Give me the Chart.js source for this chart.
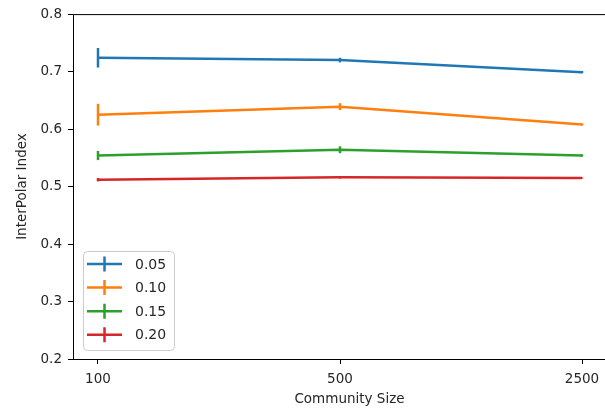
<!DOCTYPE html>
<html>
<head>
<meta charset="utf-8">
<script src="https://cdn.jsdelivr.net/npm/chart.js@4.4.0/dist/chart.umd.min.js"></script>
<style>
  html, body { margin: 0; padding: 0; background: #fff; overflow: hidden; }
  #clip { width: 605px; height: 411px; overflow: hidden; }
  #wrap { width: 645px; height: 411px; position: relative; }
</style>
</head>
<body>
<div id="clip"><div id="wrap"><canvas id="chart"></canvas></div></div>
<script>
// community sizes (x, log spaced)
const sizes = [100, 500, 2500];
const seriesNames = ["0.05", "0.10", "0.15", "0.20"];
const colors = ["#1f77b4", "#ff7f0e", "#2ca02c", "#d62728"];

// mean InterPolar index per series
const v005 = [0.724, 0.720, 0.699];
const v010 = [0.625, 0.639, 0.608];
const v015 = [0.554, 0.564, 0.554];
const v020 = [0.512, 0.516, 0.515];

// error half widths
const e005 = [0.017, 0.004, 0.002];
const e010 = [0.019, 0.006, 0.002];
const e015 = [0.008, 0.006, 0.002];
const e020 = [0.003, 0.002, 0.001];

const yTicks = [0.2, 0.3, 0.4, 0.5, 0.6, 0.7, 0.8];

const values = [v005, v010, v015, v020];
const errors = [e005, e010, e015, e020];
const font = "DejaVu Sans";
const textColor = "#262626";
const axisFont = 13.5;

const errorBars = {
  id: "errorBars",
  afterDatasetsDraw(chart) {
    const ctx = chart.ctx;
    const xs = chart.scales.x, ys = chart.scales.y;
    ctx.save();
    ctx.lineWidth = 2.5;
    values.forEach((vals, i) => {
      ctx.strokeStyle = colors[i];
      vals.forEach((v, j) => {
        const px = xs.getPixelForValue(sizes[j]);
        ctx.beginPath();
        ctx.moveTo(px, ys.getPixelForValue(v - errors[i][j]));
        ctx.lineTo(px, ys.getPixelForValue(v + errors[i][j]));
        ctx.stroke();
      });
    });
    ctx.restore();
  },
};

// spines; the right one lies beyond the visible 605px
const frame = {
  id: "frame",
  afterDraw(chart) {
    const a = chart.chartArea, ctx = chart.ctx;
    ctx.save();
    ctx.strokeStyle = "#000";
    ctx.lineWidth = 1;
    ctx.strokeRect(a.left + 0.5, a.top + 0.5, a.right - a.left, a.bottom - a.top);
    ctx.restore();
  },
};

const legendBox = {
  id: "legendBox",
  afterDraw(chart) {
    const ctx = chart.ctx;
    const a = chart.chartArea;
    const x0 = a.left + 10, y0 = 251, w = 91, h = 99, r = 4;
    ctx.save();
    ctx.fillStyle = "rgba(255,255,255,0.8)";
    ctx.strokeStyle = "#cccccc";
    ctx.lineWidth = 1;
    ctx.beginPath();
    ctx.roundRect(x0 + 0.5, y0 + 0.5, w, h, r);
    ctx.fill();
    ctx.stroke();
    ctx.font = "14px '" + font + "'";
    ctx.textBaseline = "middle";
    ctx.textAlign = "left";
    seriesNames.forEach((name, i) => {
      const cy = y0 + 13 + i * 23.6;
      ctx.strokeStyle = colors[i];
      ctx.lineWidth = 2.5;
      ctx.beginPath();
      ctx.moveTo(x0 + 4, cy);
      ctx.lineTo(x0 + 39, cy);
      ctx.moveTo(x0 + 21.5, cy - 7.5);
      ctx.lineTo(x0 + 21.5, cy + 7.5);
      ctx.stroke();
      ctx.fillStyle = textColor;
      ctx.fillText(name, x0 + 52, cy + 1);
    });
    ctx.restore();
  },
};

new Chart(document.getElementById("chart").getContext("2d"), {
  type: "line",
  data: {
    datasets: values.map((vals, i) => ({
      label: seriesNames[i],
      data: vals.map((v, j) => ({ x: sizes[j], y: v })),
      borderColor: colors[i],
      backgroundColor: colors[i],
      borderWidth: 2.5,
      pointRadius: 0,
      tension: 0,
    })),
  },
  options: {
    responsive: true,
    maintainAspectRatio: false,
    animation: false,
    layout: { padding: { top: 13, right: 19, left: 0, bottom: 0 } },
    plugins: { legend: { display: false }, tooltip: { enabled: false } },
    scales: {
      x: {
        type: "logarithmic",
        min: Math.pow(10, 1.9278),
        max: Math.pow(10, 3.525),
        afterBuildTicks: (s) => { s.ticks = sizes.map((v) => ({ value: v })); },
        afterFit: (s) => { s.height = 52; },
        ticks: {
          autoSkip: false,
          maxRotation: 0,
          padding: 7,
          color: textColor,
          font: { family: font, size: axisFont },
          callback: (v) => String(v),
        },
        grid: { drawOnChartArea: false, tickLength: 5, tickColor: "#000", color: "#000" },
        border: { display: false },
        title: { display: true, text: "Community Size", color: textColor, font: { family: font, size: axisFont }, padding: { top: 2, bottom: 3 } },
      },
      y: {
        min: 0.2,
        max: 0.8,
        afterBuildTicks: (s) => { s.ticks = yTicks.map((v) => ({ value: v })); },
        afterFit: (s) => { s.width = 73; },
        ticks: {
          padding: 6,
          color: textColor,
          font: { family: font, size: axisFont },
          callback: (v) => v.toFixed(1),
        },
        grid: { drawOnChartArea: false, tickLength: 5, tickColor: "#000", color: "#000" },
        border: { display: false },
        title: { display: true, text: "InterPolar Index", color: textColor, font: { family: font, size: axisFont }, padding: { top: 14, bottom: 4 } },
      },
    },
  },
  plugins: [errorBars, frame, legendBox],
});
</script>
</body>
</html>
